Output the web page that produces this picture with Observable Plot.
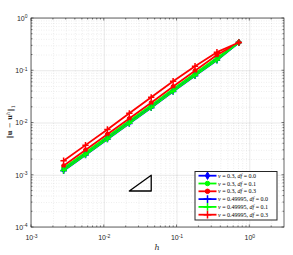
<!DOCTYPE html>
<html><head><meta charset="utf-8">
<script src="https://cdn.jsdelivr.net/npm/d3@7"></script>
<script src="https://cdn.jsdelivr.net/npm/@observablehq/plot@0.6"></script>
<style>body{margin:0;background:#fff}</style>
</head><body><div id="chart"></div>
<script>
const h = [0.7071, 0.3536, 0.1768, 0.0884, 0.0442, 0.0221, 0.01105, 0.005524, 0.002762];
const nu03_df00 = [0.348, 0.166, 0.084, 0.042, 0.0205, 0.0103, 0.0051, 0.00256, 0.00128];
const nu03_df01 = [0.348, 0.178, 0.090, 0.045, 0.0219, 0.0110, 0.0055, 0.00273, 0.00137];
const nu03_df03 = [0.348, 0.200, 0.100, 0.050, 0.0245, 0.0122, 0.0061, 0.00305, 0.00152];
const nu49_df00 = [0.348, 0.158, 0.080, 0.040, 0.0195, 0.0098, 0.0049, 0.00244, 0.00122];
const nu49_df01 = [0.348, 0.160, 0.081, 0.0405, 0.0197, 0.0099, 0.00495, 0.00246, 0.00123];
const nu49_df03 = [0.348, 0.227, 0.122, 0.063, 0.031, 0.0153, 0.0075, 0.00377, 0.00189];
const seriesValues = [nu03_df00, nu03_df01, nu03_df03, nu49_df00, nu49_df01, nu49_df03];
const seriesNu = ["0.3", "0.3", "0.3", "0.49995", "0.49995", "0.49995"];
const seriesDf = ["0.0", "0.1", "0.3", "0.0", "0.1", "0.3"];
const seriesColors = ["#0000ff", "#00ff00", "#ff0000", "#0000ff", "#00ff00", "#ff0000"];
const seriesSymbols = ["diamond", "circle", "circle", "plus", "plus", "plus"];
const xTicks = [1e-3, 1e-2, 1e-1, 1e0];
const xTickExp = ["-3", "-2", "-1", "0"];
const yTicks = [1e-4, 1e-3, 1e-2, 1e-1, 1e0];
const yTickExp = ["-4", "-3", "-2", "-1", "0"];
const triH = [0.0221, 0.0442, 0.0442, 0.0221];
const triE = [5e-4, 5e-4, 1e-3, 5e-4];

const xDomain = [1e-3, 3];
const yDomain = [1e-4, 1];
const xMinor = [];
for (const d of [1e-3, 1e-2, 1e-1, 1e0]) for (let k = 2; k <= 9; k++) { const v = d * k; if (v < xDomain[1]) xMinor.push(v); }
const yMinor = [];
for (const d of [1e-4, 1e-3, 1e-2, 1e-1]) for (let k = 2; k <= 9; k++) yMinor.push(d * k);

const rows = [];
seriesValues.forEach((vals, s) => vals.forEach((v, i) => rows.push({s, h: h[i], e: v})));
const tri = triH.map((x, i) => ({h: x, e: triE[i]}));

const fmtExp = (ticks, exps) => v => { const i = ticks.indexOf(v); return "10|" + exps[i]; };

const marks = [
  Plot.ruleX(xMinor, {stroke: "#000", strokeOpacity: 0.12, strokeDasharray: "1,1.5", strokeWidth: 0.6}),
  Plot.ruleY(yMinor, {stroke: "#000", strokeOpacity: 0.12, strokeDasharray: "1,1.5", strokeWidth: 0.6}),
  Plot.ruleX(xTicks, {stroke: "#000", strokeOpacity: 0.13, strokeWidth: 0.7}),
  Plot.ruleY(yTicks, {stroke: "#000", strokeOpacity: 0.13, strokeWidth: 0.7}),
  Plot.axisX(xTicks, {tickSize: 0, tickPadding: 8, tickFormat: fmtExp(xTicks, xTickExp), label: null, fill: "#262626"}),
  Plot.axisY(yTicks, {tickSize: 0, tickPadding: 4, tickFormat: fmtExp(yTicks, yTickExp), label: null, fill: "#262626"}),
  Plot.line(tri, {x: "h", y: "e", stroke: "#000", strokeWidth: 1.3})
];
seriesValues.forEach((vals, s) => {
  const data = rows.filter(r => r.s === s);
  marks.push(Plot.line(data, {x: "h", y: "e", stroke: seriesColors[s], strokeWidth: 1.8}));
  const sym = seriesSymbols[s];
  if (sym === "plus") {
    marks.push(Plot.dot(data, {x: "h", y: "e", symbol: "plus", r: 2.2, stroke: seriesColors[s], strokeWidth: 1.5}));
  } else {
    marks.push(Plot.dot(data, {x: "h", y: "e", symbol: sym, r: 2, fill: seriesColors[s], stroke: seriesColors[s], strokeWidth: 1}));
  }
});

const chart = Plot.plot({
  width: 293, height: 255,
  marginLeft: 31, marginRight: 9, marginTop: 18, marginBottom: 28,
  style: {fontFamily: "'Liberation Sans', Arial, sans-serif", fontSize: "7px", background: "#fff"},
  x: {type: "log", domain: xDomain, axis: null},
  y: {type: "log", domain: yDomain, axis: null},
  marks
});
document.getElementById("chart").appendChild(chart);

const svg = d3.select(chart);
svg.selectAll("g[aria-label$='tick label'] text").each(function() {
  const t = d3.select(this);
  const parts = t.text().split("|");
  if (parts.length !== 2) return;
  t.text(parts[0]);
  t.append("tspan").attr("dy", "-0.5em").attr("font-size", "5px").text(parts[1]);
});

const xs = chart.scale("x"), ys = chart.scale("y");
const X0 = 31, X1 = 284, Y0 = 18, Y1 = 227;
const g = svg.append("g");
const tk = (len, vals, horiz) => vals.forEach(v => {
  if (horiz) {
    const x = xs.apply(v);
    g.append("line").attr("x1", x).attr("x2", x).attr("y1", Y1).attr("y2", Y1 - len).attr("stroke", "#262626").attr("stroke-width", 0.6);
    g.append("line").attr("x1", x).attr("x2", x).attr("y1", Y0).attr("y2", Y0 + len).attr("stroke", "#262626").attr("stroke-width", 0.6);
  } else {
    const y = ys.apply(v);
    g.append("line").attr("y1", y).attr("y2", y).attr("x1", X0).attr("x2", X0 + len).attr("stroke", "#262626").attr("stroke-width", 0.6);
    g.append("line").attr("y1", y).attr("y2", y).attr("x1", X1).attr("x2", X1 - len).attr("stroke", "#262626").attr("stroke-width", 0.6);
  }
});
tk(2.5, xTicks, true); tk(1.5, xMinor, true);
tk(2.5, yTicks, false); tk(1.5, yMinor, false);
g.append("rect").attr("x", X0).attr("y", Y0).attr("width", X1 - X0).attr("height", Y1 - Y0)
  .attr("fill", "none").attr("stroke", "#262626").attr("stroke-width", 0.7);

svg.append("text").attr("x", 157).attr("y", 250).attr("text-anchor", "middle")
  .attr("font-family", "'DejaVu Serif', serif").attr("font-style", "italic").attr("font-size", 8).attr("fill", "#262626").text("h");
const yl = svg.append("text").attr("transform", "translate(12,122) rotate(-90)").attr("text-anchor", "middle")
  .attr("font-family", "'DejaVu Serif', serif").attr("font-size", 7).attr("fill", "#262626");
yl.append("tspan").text("\u2016");
yl.append("tspan").attr("font-weight", "bold").text("u");
yl.append("tspan").text(" \u2212 ");
yl.append("tspan").attr("font-weight", "bold").text("u");
yl.append("tspan").attr("dy", "-0.5em").attr("font-size", 5).attr("font-style", "italic").text("h");
yl.append("tspan").attr("dy", "0.5em").text("\u2016");
yl.append("tspan").attr("dy", "0.3em").attr("font-size", 5).text("1");

const L = svg.append("g");
L.append("rect").attr("x", 195).attr("y", 171.5).attr("width", 82).attr("height", 48.5)
  .attr("fill", "#fff").attr("stroke", "#262626").attr("stroke-width", 1);
const symMap = {diamond: d3.symbolDiamond, circle: d3.symbolCircle, plus: d3.symbolPlus};
seriesColors.forEach((c, i) => {
  const y = 175.7 + i * 7.8;
  L.append("line").attr("x1", 198.5).attr("x2", 216.5).attr("y1", y).attr("y2", y).attr("stroke", c).attr("stroke-width", 1.8);
  const sym = seriesSymbols[i];
  const p = L.append("path").attr("transform", `translate(207.5,${y})`)
    .attr("d", d3.symbol(symMap[sym], sym === "plus" ? 22 : 16)());
  if (sym === "plus") p.attr("fill", "none").attr("stroke", c).attr("stroke-width", 1.5);
  else p.attr("fill", c).attr("stroke", c);
  const t = L.append("text").attr("x", 218).attr("y", y + 2).attr("text-anchor", "start")
    .attr("font-family", "'Liberation Serif', serif").attr("font-size", 6).attr("fill", "#000");
  t.append("tspan").attr("font-style", "italic").text("\u03bd");
  t.append("tspan").text(" = " + seriesNu[i] + ", ");
  t.append("tspan").attr("font-style", "italic").text("df");
  t.append("tspan").text(" = " + seriesDf[i]);
});
</script>
</body></html>
